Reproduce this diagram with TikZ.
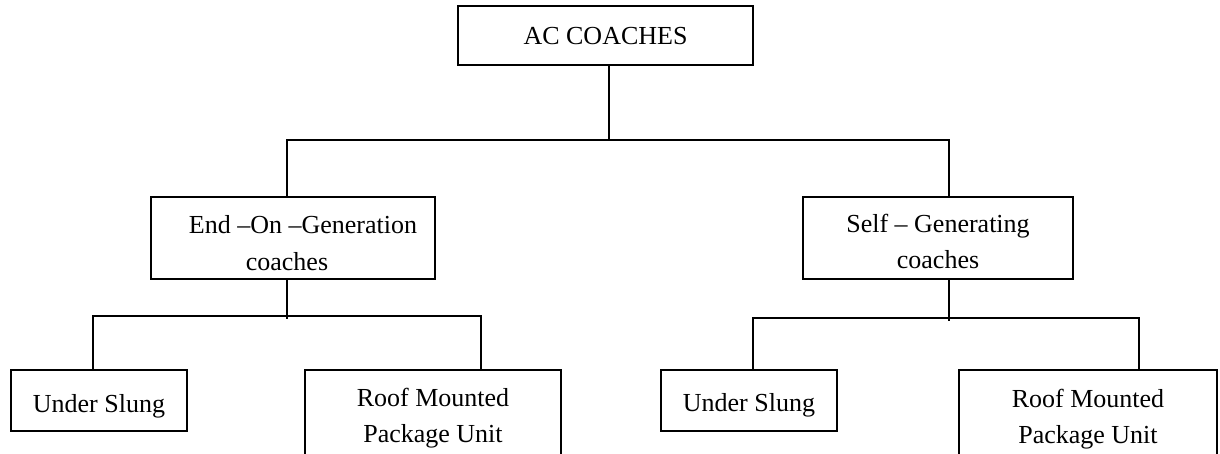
\documentclass[tikz,border=0pt]{standalone}
\usepackage{fontspec}
\setmainfont{Liberation Serif}
\begin{document}
\begin{tikzpicture}[x=1pt,y=-1pt,
  box/.style={draw,line width=2pt,rectangle,inner sep=0pt,anchor=base,
    font=\fontsize{26}{36}\selectfont},
  conn/.style={draw,line width=2pt}]
\useasboundingbox (0,0) rectangle (1220,454);
\fill[white] (0,0) rectangle (1220,454);
\clip (0,0) rectangle (1220,454);
% boxes
\node[box,minimum width=295pt,text height=39pt,text depth=20pt] (top) at (605.5,45) {AC COACHES};
\node[box,minimum width=284pt,text height=37pt,text depth=45pt] (endon) at (293,234)
  {\begin{tabular}[t]{@{}c@{}}\hspace*{20pt}End –On –Generation\\coaches\hspace*{12pt}\end{tabular}};
\node[box,minimum width=270pt,text height=36pt,text depth=46pt] (selfgen) at (938,233)
  {\begin{tabular}[t]{@{}c@{}}Self – Generating\\coaches\end{tabular}};
\node[box,minimum width=176pt,text height=42pt,text depth=19pt] (usl) at (99,412) {Under Slung};
\node[box,minimum width=256pt,text height=36pt,text depth=70pt] (roofl) at (433,406)
  {\begin{tabular}[t]{@{}c@{}}Roof Mounted\\Package Unit\end{tabular}};
\node[box,minimum width=176pt,text height=41pt,text depth=20pt] (usr) at (749,411) {Under Slung};
\node[box,minimum width=258pt,text height=37pt,text depth=70pt] (roofr) at (1088,407)
  {\begin{tabular}[t]{@{}c@{}}Roof Mounted\\Package Unit\end{tabular}};
% junction points
\coordinate (j0) at (609,140);
\coordinate (l1) at (287,140);
\coordinate (r1) at (949,140);
\coordinate (c2) at (287,319);
\coordinate (a2) at (93,316);
\coordinate (b2) at (481,316);
\coordinate (c3) at (949,321);
\coordinate (a3) at (753,318);
\coordinate (b3) at (1139,318);
% connectors
\draw[conn] (top.south -| j0) -- (j0);
\draw[conn] (endon.north -| l1) -- (l1) -- (r1) -- (selfgen.north -| r1);
\draw[conn] (endon.south -| c2) -- (c2);
\draw[conn] (usl.north -| a2) -- (a2) -- (b2) -- (roofl.north -| b2);
\draw[conn] (selfgen.south -| c3) -- (c3);
\draw[conn] (usr.north -| a3) -- (a3) -- (b3) -- (roofr.north -| b3);
\end{tikzpicture}
\end{document}
